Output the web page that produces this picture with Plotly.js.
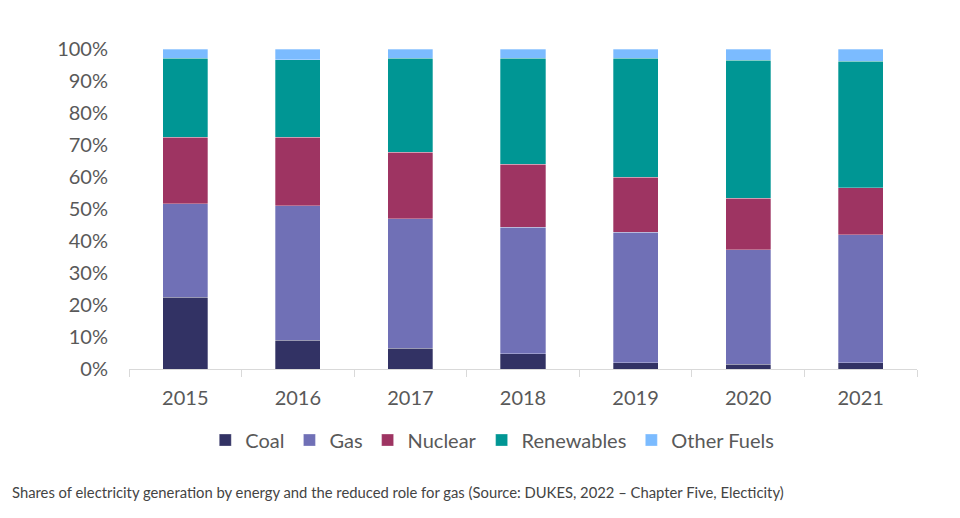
<!DOCTYPE html>
<html>
<head>
<meta charset="utf-8">
<script src="https://cdn.plot.ly/plotly-3.0.1.min.js"></script>
<style>
  html, body { margin: 0; padding: 0; background: #fff; }
  #chart { width: 960px; height: 518px; }
</style>
</head>
<body>
<div id="chart"></div>
<script>
// shares of electricity generation, % of total
const years = ['2015', '2016', '2017', '2018', '2019', '2020', '2021'];
const coal = [22.4, 9.0, 6.5, 4.8, 2.0, 1.5, 2.0];
const gas = [29.2, 42.0, 40.4, 39.5, 40.7, 35.7, 39.9];
const nuclear = [20.8, 21.4, 20.8, 19.7, 17.3, 16.1, 14.7];
const renewables = [24.7, 24.3, 29.4, 33.1, 37.1, 43.2, 39.6];
const otherFuels = [2.9, 3.3, 2.9, 2.9, 2.9, 3.5, 3.8];

const yTicks = [0, 10, 20, 30, 40, 50, 60, 70, 80, 90, 100];
const yTickText = yTicks.map(v => v + '%');

const series = [
    { name: 'Coal', values: coal, color: '#323264' },
    { name: 'Gas', values: gas, color: '#7070b6' },
    { name: 'Nuclear', values: nuclear, color: '#9e3462' },
    { name: 'Renewables', values: renewables, color: '#009694' },
    { name: 'Other Fuels', values: otherFuels, color: '#7bbbff' }
];

const traces = series.map(s => ({
    x: years,
    y: s.values,
    name: s.name,
    type: 'bar',
    marker: { color: s.color, line: { color: 'rgba(255,255,255,0.6)', width: 0.5 } },
    hoverinfo: 'x+y+name'
}));

const textGrey = '#595959';

const layout = {
    width: 960,
    height: 518,
    barmode: 'stack',
    bargap: 0.6,
    margin: { t: 48.5, b: 148.5, l: 129, r: 43 },
    paper_bgcolor: '#fff',
    plot_bgcolor: '#fff',
    font: { family: 'Lato, "Open Sans", sans-serif', color: textGrey, size: 20 },
    showlegend: true,
    legend: {
        orientation: 'h',
        x: 0.461, xanchor: 'center',
        y: -0.222, yanchor: 'middle',
        font: { size: 20, color: textGrey },
        traceorder: 'normal'
    },
    xaxis: {
        type: 'category',
        showline: true,
        linecolor: '#d9d9d9',
        linewidth: 1,
        ticks: 'outside',
        tickson: 'boundaries',
        ticklen: 7,
        tickcolor: '#d9d9d9',
        ticklabelstandoff: 11,
        showgrid: false,
        zeroline: false,
        tickfont: { size: 20, color: textGrey }
    },
    yaxis: {
        range: [0, 100],
        tickmode: 'array',
        tickvals: yTicks,
        ticktext: yTickText,
        showgrid: false,
        zeroline: false,
        showline: false,
        ticks: '',
        ticklabelstandoff: 20,
        tickfont: { size: 20, color: textGrey }
    },
    annotations: [{
        text: 'Shares of electricity generation by energy and the reduced role for gas (Source: DUKES, 2022 – Chapter Five, Electicity)',
        xref: 'paper', yref: 'paper',
        x: -0.151, xanchor: 'left',
        y: -0.385, yanchor: 'middle',
        showarrow: false,
        font: { family: 'Lato, sans-serif', size: 14.8, color: '#444' }
    }]
};

Plotly.newPlot('chart', traces, layout, { displayModeBar: false });
</script>
</body>
</html>
